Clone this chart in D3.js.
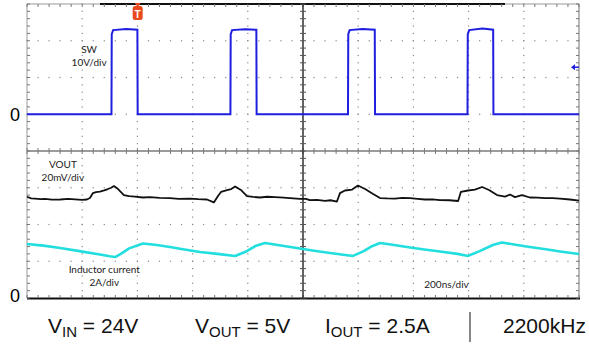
<!DOCTYPE html>
<html>
<head>
<meta charset="utf-8">
<script src="https://cdn.jsdelivr.net/npm/d3@7"></script>
<style>
  body { margin: 0; background: #fff; }
  svg { display: block; }
</style>
</head>
<body>
<svg id="scope"></svg>
<script>
// time base: 200 ns/div, 10 divisions
var timeDomain = [0, 2000];
var hDivs = 10, vDivs = 8;

// channel settings
var swPerDiv = 10;      // V/div
var voutPerDiv = 20;    // mV/div
var ilPerDiv = 2;       // A/div
var swZeroDiv = 3;      // division (from top) of SW zero
var voutZeroDiv = 5.28; // division of VOUT reference
var ilZeroDiv = 8;      // division of inductor current zero
var trigTime = 401;     // ns
var trigLevel = 12.8;   // V

// SW node voltage [ns, V]
var swWave = [[0, 0], [306, 0], [307, 21.8], [312, 22.9], [360, 23.2], [400, 23.0], [401, 0],
  [737, 0], [738, 21.8], [743, 22.9], [790, 23.1], [831, 23.0], [832, 0],
  [1163, 0], [1164, 21.8], [1169, 22.9], [1215, 23.2], [1260, 23.0], [1261, 0],
  [1596, 0], [1597, 21.8], [1602, 22.9], [1650, 23.3], [1689, 23.0], [1690, 0], [2000, 0]];

// output ripple [ns, mV]
var voutWave = [[0, 0.7], [15, -0.2], [29, -0.3], [50, -0.6], [65, -0.5], [90, -0.9], [120, -0.8],
  [150, -0.5], [174, -0.7], [200, -1.0], [217, -0.8], [228, 0], [239, 2.7], [250, 3.2], [264, 3.5],
  [280, 4.2], [293, 4.9], [305, 5.6], [315, 6.5], [330, 4.9], [351, 1.6], [370, 1.0], [391, 0.8],
  [420, 0.3], [446, 0.5], [480, 0.1], [518, 0], [550, -0.4], [591, -0.3], [620, -0.6], [652, -0.8],
  [677, -2.4], [692, 1.1], [703, 3.3], [728, 4.4], [740, 4.9], [754, 6.3], [775, 4.4], [797, 1.1],
  [820, 0.6], [844, 0.3], [870, 0.7], [899, 0.5], [930, 0.2], [953, 0], [989, -0.5], [1010, -0.4],
  [1025, -1.1], [1050, -1.0], [1080, -1.6], [1100, -1.2], [1123, -1.9], [1134, 2.7], [1152, 4.1],
  [1178, 4.6], [1199, 6.8], [1225, 4.9], [1254, 2.2], [1279, 0], [1305, -0.2], [1333, -0.3],
  [1360, 0.1], [1388, 0], [1415, -0.4], [1442, -0.8], [1470, -0.7], [1496, -1.1], [1530, -1.2],
  [1562, -1.6], [1572, 3.3], [1598, 4.1], [1623, 4.6], [1649, 6.0], [1674, 4.4], [1703, 1.6],
  [1732, 0.8], [1750, 1.9], [1768, 0.5], [1793, 1.6], [1822, 0.3], [1850, 0.2], [1877, 0],
  [1905, -0.1], [1931, -0.3], [1967, -0.8], [2000, -1.4]];

// inductor current [ns, A]
var ilWave = [[0, 2.94], [60, 2.85], [120, 2.72], [190, 2.55], [264, 2.37], [300, 2.27], [319, 2.23],
  [340, 2.40], [370, 2.70], [420, 2.97], [470, 2.88], [518, 2.78], [570, 2.64], [627, 2.50],
  [690, 2.40], [754, 2.29], [790, 2.50], [830, 2.85], [862, 2.99], [920, 2.86], [989, 2.69],
  [1040, 2.57], [1098, 2.45], [1181, 2.29], [1220, 2.55], [1250, 2.82], [1279, 2.99],
  [1330, 2.88], [1388, 2.75], [1440, 2.64], [1496, 2.53], [1560, 2.40], [1598, 2.29],
  [1640, 2.55], [1690, 2.90], [1721, 3.02], [1770, 2.90], [1822, 2.78], [1880, 2.65],
  [1931, 2.53], [2000, 2.39]];

var channelLabels = [
  {lines: ["SW", "10V/div"], t: 225, div: 1.33},
  {lines: ["VOUT", "20mV/div"], t: 130, div: 4.46},
  {lines: ["Inductor current", "2A/div"], t: 280, div: 7.31}
];
var timeLabel = "200ns/div";
var zeroLabels = ["0", "0"];

var width = 589, height = 345;
var plot = {left: 27, right: 579, top: 4, bottom: 298};

var svg = d3.select("#scope")
  .attr("width", width)
  .attr("height", height);

var x = d3.scaleLinear().domain(timeDomain).range([plot.left, plot.right]);
var yDiv = d3.scaleLinear().domain([0, vDivs]).range([plot.top, plot.bottom]);
var xDiv = d3.scaleLinear().domain([0, hDivs]).range([plot.left, plot.right]);

var ySW = d3.scaleLinear()
  .domain([swZeroDiv * swPerDiv, -(vDivs - swZeroDiv) * swPerDiv])
  .range([plot.top, plot.bottom]);
var yVout = d3.scaleLinear()
  .domain([voutZeroDiv * voutPerDiv, -(vDivs - voutZeroDiv) * voutPerDiv])
  .range([plot.top, plot.bottom]);
var yIL = d3.scaleLinear()
  .domain([ilZeroDiv * ilPerDiv, -(vDivs - ilZeroDiv) * ilPerDiv])
  .range([plot.top, plot.bottom]);

var grid = svg.append("g");
var minorX = d3.range(0, hDivs * 5 + 1).map(function(i) { return xDiv(i / 5); });
var minorY = d3.range(0, vDivs * 5 + 1).map(function(i) { return yDiv(i / 5); });

// dotted graticule
d3.range(1, hDivs).filter(function(k) { return k != hDivs / 2; }).forEach(function(k) {
  grid.selectAll(null).data(minorY).enter().append("rect")
    .attr("x", xDiv(k) - 0.6).attr("y", function(d) { return d - 0.6; })
    .attr("width", 1.2).attr("height", 1.2).attr("fill", "#8a8a8a");
});
d3.range(1, vDivs).filter(function(k) { return k != vDivs / 2; }).forEach(function(k) {
  grid.selectAll(null).data(minorX).enter().append("rect")
    .attr("x", function(d) { return d - 0.6; }).attr("y", yDiv(k) - 0.6)
    .attr("width", 1.2).attr("height", 1.2).attr("fill", "#8a8a8a");
});

// borders
grid.append("line").attr("x1", plot.left).attr("x2", plot.left)
  .attr("y1", plot.top).attr("y2", plot.bottom).attr("stroke", "#999").attr("stroke-width", 1);
grid.append("line").attr("x1", plot.right).attr("x2", plot.right)
  .attr("y1", plot.top).attr("y2", plot.bottom).attr("stroke", "#888").attr("stroke-width", 1.2);
grid.append("line").attr("x1", plot.left).attr("x2", plot.right)
  .attr("y1", plot.top).attr("y2", plot.top).attr("stroke", "#999").attr("stroke-width", 1);
grid.append("line").attr("x1", 100).attr("x2", 505)
  .attr("y1", plot.top).attr("y2", plot.top).attr("stroke", "#111").attr("stroke-width", 2);
grid.append("line").attr("x1", plot.left).attr("x2", plot.right + 1)
  .attr("y1", plot.bottom + 0.5).attr("y2", plot.bottom + 0.5).attr("stroke", "#111").attr("stroke-width", 2);

// border ticks
grid.selectAll(null).data(minorX).enter().append("line")
  .attr("x1", function(d) { return d; }).attr("x2", function(d) { return d; })
  .attr("y1", plot.top).attr("y2", plot.top + 3).attr("stroke", "#777");
grid.selectAll(null).data(minorX).enter().append("line")
  .attr("x1", function(d) { return d; }).attr("x2", function(d) { return d; })
  .attr("y1", plot.bottom - 3).attr("y2", plot.bottom).attr("stroke", "#777");
grid.selectAll(null).data(minorY).enter().append("line")
  .attr("x1", plot.left).attr("x2", plot.left + 3)
  .attr("y1", function(d) { return d; }).attr("y2", function(d) { return d; }).attr("stroke", "#777");
grid.selectAll(null).data(minorY).enter().append("line")
  .attr("x1", plot.right - 3).attr("x2", plot.right)
  .attr("y1", function(d) { return d; }).attr("y2", function(d) { return d; }).attr("stroke", "#777");

// center crosshair
var cx = xDiv(hDivs / 2), cy = yDiv(vDivs / 2);
grid.append("line").attr("x1", plot.left).attr("x2", plot.right)
  .attr("y1", cy).attr("y2", cy).attr("stroke", "#7a7a7a").attr("stroke-width", 1.5);
grid.selectAll(null).data(minorX).enter().append("line")
  .attr("x1", function(d) { return d; }).attr("x2", function(d) { return d; })
  .attr("y1", cy - 3).attr("y2", cy + 3).attr("stroke", "#7a7a7a");
grid.append("line").attr("x1", cx).attr("x2", cx)
  .attr("y1", plot.top).attr("y2", plot.bottom).attr("stroke", "#222").attr("stroke-width", 1.4);
grid.selectAll(null).data(minorY).enter().append("line")
  .attr("x1", cx - 3).attr("x2", cx + 3)
  .attr("y1", function(d) { return d; }).attr("y2", function(d) { return d; }).attr("stroke", "#555");

// traces
var traces = svg.append("g");
traces.append("path")
  .datum(ilWave)
  .attr("fill", "none").attr("stroke", "#22dede").attr("stroke-width", 2.6)
  .attr("stroke-linejoin", "round")
  .attr("d", d3.line().x(function(d) { return x(d[0]); }).y(function(d) { return yIL(d[1]); }));
traces.append("path")
  .datum(voutWave)
  .attr("fill", "none").attr("stroke", "#111").attr("stroke-width", 1.8)
  .attr("stroke-linejoin", "round")
  .attr("d", d3.line().x(function(d) { return x(d[0]); }).y(function(d) { return yVout(d[1]); }));
traces.append("path")
  .datum(swWave)
  .attr("fill", "none").attr("stroke", "#1f1fe0").attr("stroke-width", 2)
  .attr("d", d3.line().x(function(d) { return x(d[0]); }).y(function(d) { return ySW(d[1]); }));

// trigger level arrow (right edge)
var ty = ySW(trigLevel);
svg.append("path")
  .attr("d", "M" + (plot.right - 8) + "," + ty + "L" + (plot.right - 4) + "," + (ty - 3) +
    "L" + (plot.right - 4) + "," + (ty + 3) + "Z")
  .attr("fill", "#1f1fe0");
svg.append("line").attr("x1", plot.right - 5).attr("x2", plot.right)
  .attr("y1", ty).attr("y2", ty).attr("stroke", "#1f1fe0").attr("stroke-width", 1.5);

// trigger position marker
var tx = x(trigTime);
svg.append("path")
  .attr("d", "M" + (tx - 3) + ",3L" + (tx + 3) + ",3L" + tx + ",7Z")
  .attr("fill", "#e8491d");
svg.append("rect")
  .attr("x", tx - 5).attr("y", 6).attr("width", 10).attr("height", 14).attr("rx", 2.5)
  .attr("fill", "#e8491d");
svg.append("text")
  .attr("x", tx).attr("y", 17.5)
  .attr("text-anchor", "middle")
  .attr("font-family", "Liberation Sans, Arial, sans-serif")
  .attr("font-weight", "bold").attr("font-size", 10).attr("fill", "#fff")
  .text("T");

// channel labels
channelLabels.forEach(function(c) {
  c.lines.forEach(function(s, i) {
    svg.append("text")
      .attr("x", x(c.t))
      .attr("y", yDiv(c.div) + i * 13)
      .attr("text-anchor", "middle")
      .attr("font-family", "Lato, sans-serif").attr("font-size", 10).attr("fill", "#222")
      .text(s);
  });
});
svg.append("text")
  .attr("x", x(1520)).attr("y", 287.5)
  .attr("text-anchor", "middle")
  .attr("font-family", "Lato, sans-serif").attr("font-size", 10).attr("fill", "#222")
  .text(timeLabel);

// zero markers
svg.append("text")
  .attr("x", 15).attr("y", ySW(0) + 6.5)
  .attr("text-anchor", "middle")
  .attr("font-family", "Liberation Sans, Arial, sans-serif").attr("font-size", 18)
  .text(zeroLabels[0]);
svg.append("text")
  .attr("x", 15).attr("y", yIL(0) + 4)
  .attr("text-anchor", "middle")
  .attr("font-family", "Liberation Sans, Arial, sans-serif").attr("font-size", 18)
  .text(zeroLabels[1]);

// test conditions below the screen
var conditions = [
  {main: "V", sub: "IN", rest: " = 24V", x: 48},
  {main: "V", sub: "OUT", rest: " = 5V", x: 195},
  {main: "I", sub: "OUT", rest: " = 2.5A", x: 325},
  {main: "2200kHz", sub: "", rest: "", x: 503}
];
conditions.forEach(function(c) {
  var t = svg.append("text")
    .attr("x", c.x).attr("y", 333)
    .attr("font-family", "Liberation Sans, Arial, sans-serif").attr("font-size", 21)
    .attr("fill", "#111");
  t.append("tspan").text(c.main);
  if (c.sub) {
    t.append("tspan").attr("font-size", 15).attr("dy", 4).text(c.sub);
    t.append("tspan").attr("dy", -4).text(c.rest);
  }
});
svg.append("line")
  .attr("x1", 470).attr("x2", 470).attr("y1", 312).attr("y2", 342)
  .attr("stroke", "#111").attr("stroke-width", 1);
</script>
</body>
</html>
